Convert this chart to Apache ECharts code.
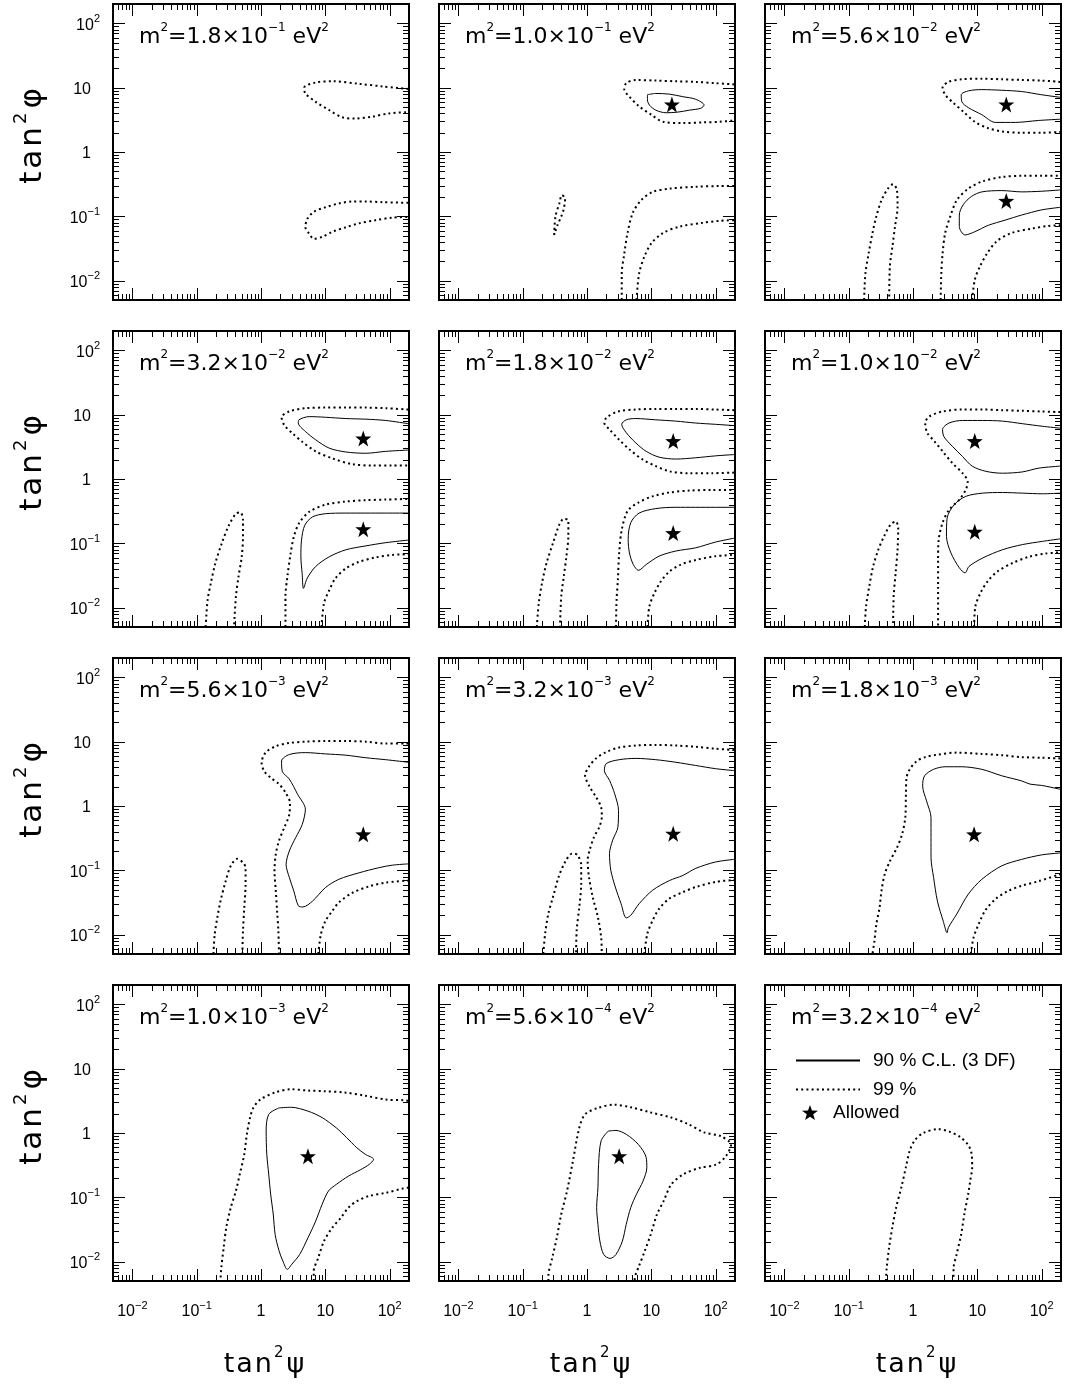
<!DOCTYPE html>
<html>
<head>
<meta charset="utf-8">
<title>tan²ψ – tan²φ allowed regions</title>
<script src="https://cdn.jsdelivr.net/npm/echarts@6/dist/echarts.min.js"></script>
<style>
  html, body { margin: 0; padding: 0; background: #fff; }
  #chart { width: 1070px; height: 1385px; }
</style>
</head>
<body>
<div id="chart"></div>
<script>
// Contour points as [log10 tan²ψ, log10 tan²φ]
// and turned into plain values for the log axes further down.

// panel labels: m² = mantissa × 10^exponent eV²
const massMantissa = ['1.8', '1.0', '5.6', '3.2', '1.8', '1.0', '5.6', '3.2', '1.8', '1.0', '5.6', '3.2']
const massExponent = ['−1', '−1', '−2', '−2', '−2', '−2', '−3', '−3', '−3', '−3', '−4', '−4']

// axis ticks
const majorTicks = [0.01, 0.1, 1, 10, 100]
const minorTicks = [0.006, 0.007, 0.008, 0.009, 0.02, 0.03, 0.04, 0.05, 0.06, 0.07, 0.08, 0.09,
  0.2, 0.3, 0.4, 0.5, 0.6, 0.7, 0.8, 0.9, 2, 3, 4, 5, 6, 7, 8, 9, 20, 30, 40, 50, 60, 70, 80, 90]
const tickLabelsX = { '-2': '{b|10}{s|−2}', '-1': '{b|10}{s|−1}', '0': '{b|1}', '1': '{b|10}', '2': '{b|10}{s|2}' }
const tickLabelsY = { '-2': '{b|10}{s|−2}', '-1': '{b|10}{s|−1}', '0': '{b|1}{p|}', '1': '{b|10}{p|}', '2': '{b|10}{s|2}' }

// m² = 1.8e-1
const p1_99a = [[2.29,0.98],[1.89,1.02],[1.52,1.06],[1.11,1.10],[0.85,1.08],[0.67,1.0],[0.69,0.91],[0.85,0.78],[1.06,0.65],[1.26,0.54],[1.47,0.52],[1.73,0.55],[1.99,0.60],[2.29,0.62]]
const p1_99b = [[2.29,-0.79],[1.89,-0.78],[1.63,-0.77],[1.42,-0.77],[1.21,-0.80],[1.0,-0.86],[0.82,-0.93],[0.72,-1.04],[0.69,-1.17],[0.75,-1.27],[0.82,-1.35],[0.95,-1.32],[1.11,-1.24],[1.32,-1.17],[1.52,-1.11],[1.78,-1.06],[2.04,-1.02],[2.29,-1.01]]

// m² = 1.0e-1
const p2_99a = [[2.29,1.05],[2.0,1.07],[1.69,1.09],[1.38,1.10],[1.07,1.11],[0.76,1.12],[0.61,1.07],[0.58,0.97],[0.66,0.86],[0.81,0.71],[1.0,0.58],[1.18,0.47],[1.49,0.45],[1.80,0.46],[2.06,0.47],[2.29,0.49]]
const p2_99b = [[-0.51,-1.29],[-0.49,-1.0],[-0.43,-0.80],[-0.39,-0.67],[-0.34,-0.72],[-0.36,-0.88],[-0.40,-1.0],[-0.46,-1.14],[-0.51,-1.29]]
const p2_99c = [[0.54,-2.3],[0.54,-1.89],[0.58,-1.58],[0.63,-1.26],[0.71,-0.95],[0.84,-0.75],[1.02,-0.62],[1.28,-0.57],[1.69,-0.54],[2.06,-0.53],[2.29,-0.53]]
const p2_99d = [[0.77,-2.3],[0.81,-1.89],[0.89,-1.63],[1.0,-1.42],[1.18,-1.26],[1.44,-1.16],[1.80,-1.10],[2.06,-1.07],[2.29,-1.06]]
const p2_90a = [[0.94,0.89],[1.07,0.91],[1.28,0.90],[1.49,0.86],[1.69,0.82],[1.82,0.73],[1.77,0.68],[1.59,0.65],[1.41,0.62],[1.23,0.61],[1.07,0.65],[0.97,0.73],[0.94,0.81],[0.94,0.89]]
const p2_best = [[1.32,0.74]]

// m² = 5.6e-2
const p3_99a = [[2.29,1.09],[2.0,1.11],[1.69,1.12],[1.38,1.13],[1.07,1.14],[0.76,1.13],[0.55,1.09],[0.46,1.0],[0.50,0.89],[0.63,0.76],[0.78,0.63],[0.96,0.47],[1.17,0.37],[1.38,0.32],[1.69,0.30],[2.0,0.30],[2.29,0.31]]
const p3_90a = [[2.29,0.85],[2.0,0.89],[1.69,0.94],[1.38,0.96],[1.07,0.97],[0.86,0.95],[0.75,0.89],[0.76,0.78],[0.86,0.69],[1.07,0.58],[1.28,0.46],[1.59,0.46],[1.95,0.49],[2.29,0.51]]
const p3_99b = [[0.43,-2.3],[0.44,-1.89],[0.46,-1.58],[0.50,-1.26],[0.58,-1.0],[0.68,-0.75],[0.86,-0.57],[1.07,-0.46],[1.38,-0.39],[1.69,-0.37],[2.0,-0.37],[2.29,-0.37]]
const p3_90b = [[2.29,-0.59],[2.0,-0.61],[1.69,-0.62],[1.38,-0.60],[1.07,-0.62],[0.91,-0.69],[0.78,-0.82],[0.72,-0.98],[0.72,-1.16],[0.81,-1.29],[0.96,-1.24],[1.17,-1.14],[1.43,-1.06],[1.69,-0.98],[2.0,-0.90],[2.29,-0.86]]
const p3_99c = [[0.92,-2.3],[0.96,-1.99],[1.04,-1.78],[1.15,-1.58],[1.30,-1.39],[1.53,-1.26],[1.85,-1.19],[2.10,-1.15],[2.29,-1.14]]
const p3_99d = [[-0.76,-2.3],[-0.74,-1.89],[-0.69,-1.58],[-0.63,-1.26],[-0.57,-1.0],[-0.49,-0.75],[-0.39,-0.57],[-0.31,-0.50],[-0.25,-0.59],[-0.24,-0.85],[-0.28,-1.16],[-0.32,-1.47],[-0.36,-1.78],[-0.37,-2.3]]
const p3_best = [[1.45,0.74],[1.45,-0.76]]

// m² = 3.2e-2
const p4_99a = [[2.29,1.08],[1.94,1.10],[1.63,1.11],[1.32,1.11],[1.0,1.11],[0.69,1.10],[0.44,1.05],[0.32,0.96],[0.36,0.84],[0.49,0.71],[0.64,0.58],[0.85,0.43],[1.11,0.32],[1.42,0.23],[1.73,0.21],[2.04,0.21],[2.29,0.21]]
const p4_90a = [[2.29,0.86],[1.94,0.91],[1.63,0.93],[1.32,0.94],[1.0,0.96],[0.75,0.97],[0.59,0.92],[0.58,0.87],[0.69,0.74],[0.85,0.61],[1.06,0.48],[1.32,0.42],[1.63,0.40],[1.94,0.43],[2.29,0.45]]
const p4_99b = [[0.38,-2.3],[0.38,-1.83],[0.41,-1.52],[0.46,-1.16],[0.51,-0.90],[0.59,-0.69],[0.75,-0.51],[1.0,-0.40],[1.32,-0.35],[1.63,-0.33],[1.94,-0.32],[2.29,-0.31]]
const p4_90b = [[2.29,-0.53],[1.94,-0.53],[1.63,-0.53],[1.32,-0.53],[1.0,-0.54],[0.80,-0.59],[0.68,-0.72],[0.63,-0.95],[0.62,-1.21],[0.64,-1.47],[0.66,-1.70],[0.72,-1.54],[0.85,-1.36],[1.06,-1.21],[1.32,-1.10],[1.63,-1.04],[1.94,-0.99],[2.29,-0.95]]
const p4_99c = [[0.94,-2.3],[0.98,-1.93],[1.06,-1.73],[1.16,-1.54],[1.32,-1.39],[1.52,-1.29],[1.78,-1.22],[2.04,-1.18],[2.29,-1.17]]
const p4_99d = [[-0.86,-2.3],[-0.83,-1.88],[-0.78,-1.62],[-0.71,-1.31],[-0.61,-1.0],[-0.50,-0.72],[-0.39,-0.54],[-0.32,-0.52],[-0.28,-0.64],[-0.28,-0.90],[-0.30,-1.21],[-0.35,-1.52],[-0.39,-1.83],[-0.42,-2.3]]
const p4_best = [[1.59,0.63],[1.59,-0.78]]

// m² = 1.8e-2
const p5_99a = [[2.29,1.07],[2.0,1.08],[1.69,1.09],[1.38,1.09],[1.07,1.09],[0.76,1.08],[0.48,1.05],[0.30,0.95],[0.27,0.87],[0.35,0.77],[0.50,0.61],[0.66,0.46],[0.87,0.30],[1.07,0.20],[1.28,0.12],[1.59,0.09],[1.95,0.09],[2.29,0.10]]
const p5_90a = [[2.29,0.83],[2.0,0.85],[1.69,0.87],[1.38,0.90],[1.07,0.92],[0.76,0.94],[0.61,0.92],[0.54,0.85],[0.61,0.72],[0.76,0.56],[0.92,0.43],[1.12,0.34],[1.38,0.31],[1.69,0.33],[2.0,0.36],[2.29,0.38]]
const p5_99b = [[0.45,-2.3],[0.46,-1.88],[0.48,-1.57],[0.50,-1.15],[0.54,-0.79],[0.63,-0.50],[0.79,-0.37],[1.02,-0.27],[1.28,-0.21],[1.59,-0.18],[1.95,-0.17],[2.29,-0.17]]
const p5_90b = [[2.29,-0.44],[2.0,-0.44],[1.69,-0.44],[1.38,-0.44],[1.07,-0.46],[0.81,-0.53],[0.68,-0.68],[0.64,-0.94],[0.66,-1.15],[0.72,-1.33],[0.80,-1.42],[0.92,-1.33],[1.12,-1.20],[1.38,-1.12],[1.69,-1.07],[2.0,-0.98],[2.29,-0.92]]
const p5_99c = [[0.94,-2.3],[0.97,-1.98],[1.05,-1.77],[1.15,-1.59],[1.28,-1.44],[1.46,-1.33],[1.69,-1.26],[2.0,-1.20],[2.29,-1.18]]
const p5_99d = [[-0.78,-2.3],[-0.75,-1.93],[-0.70,-1.62],[-0.63,-1.31],[-0.53,-1.0],[-0.43,-0.71],[-0.36,-0.62],[-0.29,-0.64],[-0.29,-0.89],[-0.32,-1.20],[-0.36,-1.51],[-0.40,-1.82],[-0.42,-2.3]]
const p5_best = [[1.34,0.59],[1.34,-0.84]]

// m² = 1.0e-2
const p6_99a = [[2.29,1.04],[2.01,1.05],[1.70,1.06],[1.39,1.07],[1.08,1.08],[0.77,1.08],[0.46,1.05],[0.25,0.97],[0.19,0.87],[0.22,0.72],[0.33,0.59],[0.46,0.43],[0.61,0.25],[0.77,0.09],[0.85,-0.04],[0.82,-0.17],[0.72,-0.32],[0.56,-0.48],[0.46,-0.68],[0.40,-0.94],[0.39,-1.25],[0.39,-1.67],[0.39,-2.3]]
const p6_90a = [[2.29,0.79],[2.01,0.82],[1.70,0.86],[1.39,0.90],[1.08,0.91],[0.77,0.91],[0.56,0.87],[0.46,0.77],[0.48,0.66],[0.61,0.51],[0.77,0.35],[0.92,0.20],[1.13,0.12],[1.39,0.09],[1.70,0.11],[1.96,0.17],[2.29,0.20]]
const p6_90b = [[2.29,-0.22],[2.01,-0.23],[1.70,-0.22],[1.39,-0.21],[1.08,-0.22],[0.82,-0.27],[0.64,-0.40],[0.53,-0.61],[0.52,-0.89],[0.59,-1.15],[0.72,-1.38],[0.81,-1.46],[0.87,-1.36],[1.08,-1.23],[1.39,-1.10],[1.70,-1.02],[2.01,-0.97],[2.29,-0.93]]
const p6_99b = [[0.95,-2.3],[0.97,-1.98],[1.05,-1.77],[1.16,-1.59],[1.31,-1.44],[1.54,-1.31],[1.80,-1.21],[2.06,-1.16],[2.29,-1.14]]
const p6_99c = [[-0.75,-2.3],[-0.73,-1.98],[-0.68,-1.67],[-0.62,-1.36],[-0.54,-1.10],[-0.45,-0.89],[-0.35,-0.71],[-0.27,-0.66],[-0.23,-0.76],[-0.24,-1.10],[-0.27,-1.46],[-0.30,-1.82],[-0.31,-2.3]]
const p6_best = [[0.96,0.59],[0.96,-0.82]]

// m² = 5.6e-3
const p7_99a = [[2.29,0.97],[1.94,0.97],[1.63,1.0],[1.32,1.01],[1.0,1.01],[0.69,1.0],[0.44,0.98],[0.23,0.93],[0.07,0.83],[0.01,0.67],[0.05,0.54],[0.15,0.44],[0.28,0.34],[0.38,0.21],[0.45,0.05],[0.44,-0.13],[0.36,-0.34],[0.28,-0.54],[0.23,-0.75],[0.21,-1.01],[0.23,-1.32],[0.25,-1.63],[0.27,-1.94],[0.28,-2.3]]
const p7_90a = [[2.29,0.68],[1.94,0.72],[1.63,0.75],[1.32,0.79],[1.0,0.81],[0.69,0.83],[0.44,0.80],[0.32,0.70],[0.33,0.54],[0.44,0.42],[0.57,0.18],[0.69,-0.05],[0.64,-0.29],[0.54,-0.49],[0.44,-0.70],[0.39,-0.91],[0.44,-1.11],[0.51,-1.32],[0.58,-1.55],[0.65,-1.57],[0.80,-1.48],[1.0,-1.27],[1.21,-1.14],[1.52,-1.04],[1.83,-0.96],[2.04,-0.92],[2.29,-0.90]]
const p7_99b = [[0.89,-2.3],[0.93,-2.0],[1.0,-1.79],[1.11,-1.63],[1.21,-1.50],[1.42,-1.35],[1.68,-1.25],[1.94,-1.19],[2.29,-1.16]]
const p7_99c = [[-0.74,-2.3],[-0.72,-2.0],[-0.68,-1.74],[-0.63,-1.48],[-0.55,-1.17],[-0.47,-0.93],[-0.37,-0.82],[-0.28,-0.88],[-0.24,-0.96],[-0.24,-1.22],[-0.26,-1.58],[-0.28,-1.94],[-0.29,-2.3]]
const p7_best = [[1.59,-0.44]]

// m² = 3.2e-3
const p8_99a = [[2.29,0.87],[2.0,0.89],[1.69,0.92],[1.38,0.94],[1.07,0.95],[0.76,0.94],[0.50,0.91],[0.30,0.84],[0.14,0.74],[0.03,0.61],[-0.03,0.48],[0.04,0.30],[0.14,0.14],[0.22,-0.02],[0.23,-0.17],[0.19,-0.33],[0.11,-0.48],[0.04,-0.69],[0.01,-0.85],[0.03,-1.10],[0.09,-1.42],[0.17,-1.73],[0.22,-2.04],[0.23,-2.3]]
const p8_90a = [[2.29,0.55],[2.0,0.58],[1.69,0.63],[1.38,0.68],[1.07,0.72],[0.76,0.74],[0.50,0.72],[0.30,0.66],[0.27,0.55],[0.35,0.40],[0.43,0.19],[0.49,-0.07],[0.48,-0.33],[0.40,-0.53],[0.35,-0.74],[0.37,-1.0],[0.44,-1.26],[0.53,-1.52],[0.61,-1.74],[0.68,-1.70],[0.81,-1.52],[1.02,-1.31],[1.28,-1.16],[1.49,-1.08],[1.69,-0.97],[2.0,-0.87],[2.29,-0.83]]
const p8_99b = [[0.89,-2.3],[0.94,-1.98],[1.02,-1.78],[1.12,-1.60],[1.28,-1.44],[1.49,-1.34],[1.69,-1.26],[2.0,-1.18],[2.29,-1.15]]
const p8_99c = [[-0.68,-2.3],[-0.65,-1.98],[-0.60,-1.67],[-0.53,-1.42],[-0.44,-1.10],[-0.34,-0.87],[-0.23,-0.74],[-0.15,-0.76],[-0.09,-0.92],[-0.09,-1.21],[-0.12,-1.57],[-0.16,-1.93],[-0.17,-2.3]]
const p8_best = [[1.34,-0.43]]

// m² = 1.8e-3
const p9_99a = [[2.29,0.74],[2.0,0.75],[1.69,0.76],[1.38,0.79],[1.07,0.81],[0.68,0.83],[0.39,0.80],[0.19,0.76],[0.06,0.70],[-0.05,0.57],[-0.10,0.44],[-0.11,0.18],[-0.12,-0.18],[-0.17,-0.44],[-0.25,-0.65],[-0.36,-0.86],[-0.44,-1.06],[-0.49,-1.32],[-0.52,-1.58],[-0.57,-1.84],[-0.60,-2.10],[-0.63,-2.3]]
const p9_90a = [[2.29,0.26],[2.0,0.32],[1.82,0.34],[1.69,0.39],[1.38,0.47],[1.07,0.57],[0.76,0.61],[0.50,0.61],[0.32,0.57],[0.18,0.47],[0.15,0.31],[0.21,0.08],[0.28,-0.18],[0.28,-0.49],[0.28,-0.80],[0.32,-1.11],[0.38,-1.48],[0.47,-1.79],[0.53,-1.97],[0.55,-1.89],[0.68,-1.68],[0.86,-1.37],[1.07,-1.14],[1.38,-0.93],[1.69,-0.83],[2.0,-0.76],[2.29,-0.73]]
const p9_99b = [[0.90,-2.3],[0.94,-2.05],[1.02,-1.84],[1.12,-1.63],[1.28,-1.45],[1.48,-1.32],[1.69,-1.24],[1.95,-1.17],[2.29,-1.06]]
const p9_best = [[0.95,-0.44]]

// m² = 1.0e-3
const p10_99a = [[2.29,0.50],[2.22,0.51],[1.94,0.52],[1.62,0.58],[1.30,0.63],[0.98,0.65],[0.73,0.66],[0.47,0.68],[0.22,0.63],[-0.01,0.52],[-0.12,0.39],[-0.17,0.24],[-0.22,-0.02],[-0.26,-0.33],[-0.33,-0.64],[-0.39,-0.90],[-0.47,-1.16],[-0.54,-1.47],[-0.58,-1.78],[-0.62,-2.12],[-0.63,-2.3]]
const p10_90a = [[0.28,0.39],[0.47,0.40],[0.73,0.34],[0.95,0.24],[1.17,0.08],[1.33,-0.07],[1.49,-0.23],[1.62,-0.33],[1.75,-0.41],[1.68,-0.49],[1.55,-0.57],[1.36,-0.67],[1.17,-0.80],[1.05,-0.90],[0.95,-1.11],[0.85,-1.37],[0.73,-1.63],[0.60,-1.89],[0.48,-2.04],[0.41,-2.12],[0.34,-1.99],[0.28,-1.83],[0.22,-1.58],[0.19,-1.26],[0.15,-0.95],[0.12,-0.64],[0.09,-0.33],[0.08,0.03],[0.12,0.29],[0.28,0.39]]
const p10_99b = [[0.82,-2.3],[0.82,-2.15],[0.89,-1.94],[0.98,-1.68],[1.11,-1.47],[1.24,-1.32],[1.36,-1.16],[1.49,-1.06],[1.68,-0.98],[1.94,-0.93],[2.22,-0.86],[2.29,-0.85]]
const p10_best = [[0.73,-0.36]]

// m² = 5.6e-4
const p11_99a = [[-0.60,-2.3],[-0.60,-2.22],[-0.54,-1.94],[-0.47,-1.63],[-0.40,-1.26],[-0.31,-0.90],[-0.22,-0.44],[-0.12,0.08],[-0.03,0.29],[0.17,0.39],[0.42,0.44],[0.68,0.40],[0.99,0.32],[1.31,0.24],[1.57,0.14],[1.82,0.01],[2.08,-0.05],[2.24,-0.18],[2.16,-0.36],[2.01,-0.49],[1.76,-0.54],[1.50,-0.64],[1.31,-0.80],[1.19,-1.06],[1.09,-1.26],[0.99,-1.58],[0.90,-1.83],[0.80,-2.09],[0.75,-2.22],[0.74,-2.3]]
const p11_90a = [[0.33,0.03],[0.45,0.04],[0.61,-0.02],[0.80,-0.18],[0.92,-0.38],[0.93,-0.54],[0.87,-0.75],[0.77,-0.95],[0.68,-1.16],[0.61,-1.42],[0.55,-1.68],[0.45,-1.89],[0.36,-1.95],[0.26,-1.89],[0.20,-1.68],[0.17,-1.42],[0.15,-1.16],[0.17,-0.85],[0.18,-0.49],[0.22,-0.12],[0.33,0.03]]
const p11_best = [[0.50,-0.36]]

// m² = 3.2e-4
const p12_99a = [[-0.42,-2.3],[-0.41,-2.11],[-0.37,-1.77],[-0.32,-1.46],[-0.26,-1.15],[-0.18,-0.84],[-0.11,-0.53],[-0.05,-0.27],[0.03,-0.11],[0.16,0.0],[0.39,0.06],[0.57,0.02],[0.73,-0.06],[0.86,-0.19],[0.91,-0.32],[0.92,-0.53],[0.89,-0.74],[0.86,-0.94],[0.80,-1.25],[0.75,-1.57],[0.68,-1.88],[0.63,-2.11],[0.63,-2.3]]

const panels = [
  { cl99: [p1_99a, p1_99b], cl90: [], best: [] },
  { cl99: [p2_99a, p2_99b, p2_99c, p2_99d], cl90: [p2_90a], best: p2_best },
  { cl99: [p3_99a, p3_99b, p3_99c, p3_99d], cl90: [p3_90a, p3_90b], best: p3_best },
  { cl99: [p4_99a, p4_99b, p4_99c, p4_99d], cl90: [p4_90a, p4_90b], best: p4_best },
  { cl99: [p5_99a, p5_99b, p5_99c, p5_99d], cl90: [p5_90a, p5_90b], best: p5_best },
  { cl99: [p6_99a, p6_99b, p6_99c], cl90: [p6_90a, p6_90b], best: p6_best },
  { cl99: [p7_99a, p7_99b, p7_99c], cl90: [p7_90a], best: p7_best },
  { cl99: [p8_99a, p8_99b, p8_99c], cl90: [p8_90a], best: p8_best },
  { cl99: [p9_99a, p9_99b], cl90: [p9_90a], best: p9_best },
  { cl99: [p10_99a, p10_99b], cl90: [p10_90a], best: p10_best },
  { cl99: [p11_99a], cl90: [p11_90a], best: p11_best },
  { cl99: [p12_99a], cl90: [], best: [] }
]

const NAME90 = '90 % C.L. (3 DF)'
const NAME99 = '99 %'
const NAMEBEST = 'Allowed'
const STAR = 'path://M0,-10L2.35,-3.24L9.51,-3.09L3.8,1.24L5.88,8.09L0,4L-5.88,8.09L-3.8,1.24L-9.51,-3.09L-2.35,-3.24Z'
const FONT = 'Liberation Sans'
const TITLE_FONT = 'DejaVu Sans'

const colLeft = [113, 439, 765]
const rowTop = [4, 331, 658, 985]
const SIZE = 296

const toValues = pts => pts.map(p => [Math.pow(10, p[0]), Math.pow(10, p[1])])

function tickLabel(table) {
  return function (v) {
    const e = Math.log10(v)
    const r = Math.round(e)
    if (Math.abs(e - r) > 0.01) return ''
    return table[String(r)] || ''
  }
}

const labelRich = {
  b: { fontSize: 16, fontFamily: FONT, color: '#000', lineHeight: 20, verticalAlign: 'bottom' },
  s: { fontSize: 11, fontFamily: FONT, color: '#000', lineHeight: 11, verticalAlign: 'top' },
  p: { width: 9 }
}

function renderTicks(params, api) {
  const cs = params.coordSys
  const x0 = cs.x, x1 = cs.x + cs.width, y0 = cs.y, y1 = cs.y + cs.height
  const children = []
  const add = (a, b, c, d) => children.push({
    type: 'line', shape: { x1: a, y1: b, x2: c, y2: d },
    style: { stroke: '#000', lineWidth: 1 }
  })
  const all = majorTicks.map(t => [t, 12]).concat(minorTicks.map(t => [t, 6]))
  all.forEach(([t, len]) => {
    const px = Math.round(api.coord([t, 1])[0]) + 0.5
    const py = Math.round(api.coord([1, t])[1]) + 0.5
    if (px > x0 + 1 && px < x1 - 1) { add(px, y1, px, y1 - len); add(px, y0, px, y0 + len) }
    if (py > y0 + 1 && py < y1 - 1) { add(x0, py, x0 + len, py); add(x1, py, x1 - len, py) }
  })
  return { type: 'group', children }
}

// letter-spaced rich text for the axis titles
function spaced(word, style) {
  return word.split('').map(ch => `{${style}|${ch}}`).join('')
}

const grid = [], xAxis = [], yAxis = [], series = [], title = [], graphic = []

panels.forEach((p, i) => {
  const row = Math.floor(i / 3), col = i % 3
  grid.push({ left: colLeft[col], top: rowTop[row], width: SIZE, height: SIZE, show: true, borderColor: '#000', borderWidth: 2 })
  xAxis.push({
    type: 'log', logBase: 10, min: 0.005, max: 200, gridIndex: i,
    axisLine: { show: false }, axisTick: { show: false }, splitLine: { show: false },
    axisLabel: { show: row === 3, margin: 19, formatter: tickLabel(tickLabelsX), rich: labelRich }
  })
  yAxis.push({
    type: 'log', logBase: 10, min: 0.005, max: 200, gridIndex: i,
    axisLine: { show: false }, axisTick: { show: false }, splitLine: { show: false },
    axisLabel: { show: col === 0, margin: 13, formatter: tickLabel(tickLabelsY), rich: labelRich }
  })
  title.push({
    left: colLeft[col] + 26, top: rowTop[row] + 18, padding: 0,
    text: `{t|m}{s|2}{t|=${massMantissa[i]}×10}{s|${massExponent[i]}}{t| eV}{s|2}`,
    textStyle: {
      fontWeight: 'normal',
      rich: {
        t: { fontSize: 22, fontFamily: TITLE_FONT, fontWeight: 'normal', color: '#000', lineHeight: 26, verticalAlign: 'bottom' },
        s: { fontSize: 12, fontFamily: TITLE_FONT, fontWeight: 'normal', color: '#000', lineHeight: 12, verticalAlign: 'top' }
      }
    }
  })
  p.cl99.forEach(c => series.push({
    type: 'line', name: NAME99, xAxisIndex: i, yAxisIndex: i, data: toValues(c),
    symbol: 'none', smooth: 0.3, silent: true,
    itemStyle: { color: '#000' },
    lineStyle: { color: '#000', width: 2, type: [2, 3.2] }
  }))
  p.cl90.forEach(c => series.push({
    type: 'line', name: NAME90, xAxisIndex: i, yAxisIndex: i, data: toValues(c),
    symbol: 'none', smooth: 0.3, silent: true,
    itemStyle: { color: '#000' },
    lineStyle: { color: '#000', width: 1 }
  }))
  series.push({
    type: 'scatter', name: NAMEBEST, xAxisIndex: i, yAxisIndex: i, data: toValues(p.best),
    symbol: STAR, symbolSize: 16, itemStyle: { color: '#000', opacity: 1 }, silent: true
  })
  series.push({
    type: 'custom', xAxisIndex: i, yAxisIndex: i, data: [[1, 1]],
    renderItem: renderTicks, silent: true, clip: false, z: 5
  })
})

// axis titles
rowTop.forEach(t => graphic.push({
  type: 'text', x: 30, y: t + SIZE / 2 - 16, rotation: Math.PI / 2,
  style: {
    text: spaced('tan', 't') + '{s|2}{g|φ}', align: 'center', verticalAlign: 'middle',
    rich: {
      t: { fontSize: 31, fontFamily: TITLE_FONT, fill: '#000', lineHeight: 36, verticalAlign: 'bottom', padding: [0, 3, 0, 0] },
      g: { fontSize: 31, fontFamily: TITLE_FONT, fill: '#000', lineHeight: 36, verticalAlign: 'bottom', padding: [0, 0, 0, 4] },
      s: { fontSize: 18, fontFamily: TITLE_FONT, fill: '#000', lineHeight: 18, verticalAlign: 'top' }
    }
  }
}))
colLeft.forEach(l => graphic.push({
  type: 'text', x: l + SIZE / 2 + 3, y: 1362,
  style: {
    text: spaced('tan', 't') + '{s|2}{g|ψ}', align: 'center', verticalAlign: 'middle',
    rich: {
      t: { fontSize: 27, fontFamily: TITLE_FONT, fill: '#000', lineHeight: 32, verticalAlign: 'bottom', padding: [0, 2, 0, 0] },
      g: { fontSize: 27, fontFamily: TITLE_FONT, fill: '#000', lineHeight: 32, verticalAlign: 'bottom', padding: [0, 0, 0, 3] },
      s: { fontSize: 15, fontFamily: TITLE_FONT, fill: '#000', lineHeight: 15, verticalAlign: 'top' }
    }
  }
}))

const chart = echarts.init(document.getElementById('chart'))
chart.setOption({
  animation: false,
  backgroundColor: '#fff',
  title,
  grid,
  xAxis,
  yAxis,
  legend: [
    {
      data: [NAME90, NAME99], orient: 'vertical', left: 790, top: 1046,
      itemWidth: 64, itemHeight: 16, itemGap: 10, selectedMode: false,
      itemStyle: { opacity: 0 },
      textStyle: { fontSize: 19, fontFamily: FONT, color: '#000', padding: [0, 0, 0, 8] }
    },
    {
      data: [NAMEBEST], left: 797, top: 1098,
      itemWidth: 16, itemHeight: 16, selectedMode: false,
      itemStyle: { opacity: 1 },
      textStyle: { fontSize: 19, fontFamily: FONT, color: '#000', padding: [0, 0, 0, 10] }
    }
  ],
  graphic,
  series
})
</script>
</body>
</html>
